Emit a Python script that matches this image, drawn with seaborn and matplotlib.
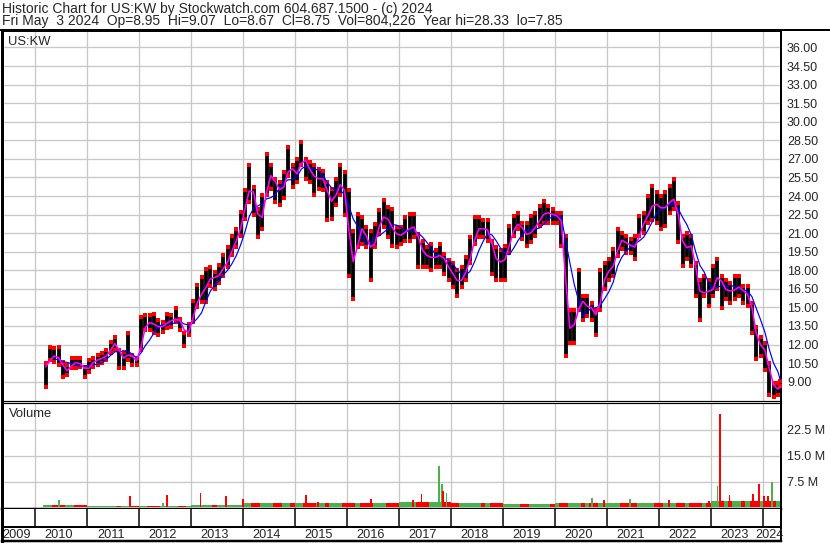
import numpy as np
import pandas as pd
import matplotlib
matplotlib.use("Agg")
import matplotlib.pyplot as plt
from matplotlib.lines import Line2D
import seaborn as sns

# %%
# monthly bars, Mar 2010 .. May 2024
start_year, start_month = 2010, 3

close = [
    10.2, 11.15, 11.0, 10.9, 9.8, 9.95, 10.6, 10.5, 10.4, 9.8,                 # 2010
    10.35, 10.75, 10.75, 11.0, 11.15, 11.95, 12.2, 10.9, 10.9, 11.4, 10.75, 10.6,  # 2011
    12.9, 13.85, 13.7, 13.6, 13.3, 13.6, 13.85, 14.0, 14.1, 13.85, 12.5, 13.45,    # 2012
    14.8, 15.9, 16.2, 17.0, 17.55, 17.3, 17.85, 18.4, 18.9, 20.15, 20.55, 22.15,   # 2013
    23.65, 25.15, 23.5, 21.6, 22.95, 25.65, 25.65, 24.7, 24.3, 25.15, 26.75, 25.65,  # 2014
    25.95, 27.3, 26.5, 25.8, 25.4, 25.4, 25.4, 23.5, 23.65, 24.45, 25.4, 23.5,     # 2015
    19.0, 18.4, 21.5, 21.2, 20.4, 19.35, 20.95, 22.05, 22.55, 21.75, 21.2, 20.7,   # 2016
    20.95, 21.2, 21.5, 21.5, 19.9, 19.35, 19.05, 19.05, 19.05, 19.35, 18.55, 18.0,  # 2017
    17.45, 16.9, 17.45, 18.25, 19.6, 21.2, 21.5, 21.2, 21.35, 19.05, 18.8, 18.55,  # 2018
    19.15, 20.75, 21.6, 21.85, 21.05, 20.75, 21.3, 21.6, 22.4, 22.65, 22.65, 22.4,  # 2019
    22.4, 21.6, 13.2, 13.45, 13.75, 15.9, 15.1, 15.1, 14.8, 14.0, 16.7, 17.8,     # 2020
    18.05, 18.6, 20.5, 20.35, 20.1, 19.95, 19.8, 21.6, 21.85, 22.9, 23.45, 23.2,   # 2021
    22.9, 23.2, 23.75, 23.75, 21.3, 19.4, 20.25, 19.7, 17.0, 15.65, 16.7, 15.9,    # 2022
    17.0, 17.8, 16.45, 16.45, 16.2, 16.6, 16.7, 16.05, 16.05, 14.0, 11.85, 12.1,   # 2023
    11.05, 9.15, 8.35, 8.45, 8.75,                                                # 2024
]
high = [
    10.5, 11.8, 11.7, 11.8, 10.6, 10.35, 10.9, 10.9, 10.9, 10.2,
    10.75, 10.9, 11.15, 11.3, 11.55, 12.2, 12.6, 11.55, 11.4, 12.9, 11.15, 10.9,
    14.25, 14.4, 14.4, 14.5, 14.0, 13.85, 14.5, 14.4, 14.95, 14.1, 12.9, 13.7,
    15.5, 16.8, 17.45, 18.1, 18.25, 17.85, 18.4, 19.2, 19.85, 20.8, 21.35, 22.7,
    24.45, 26.5, 24.7, 22.95, 24.05, 27.4, 26.5, 25.4, 25.15, 25.95, 27.95, 26.5,
    27.0, 28.35, 27.0, 26.75, 26.5, 26.2, 26.05, 25.15, 24.6, 25.4, 26.5, 25.9,
    24.5, 21.2, 22.55, 22.3, 21.5, 21.2, 21.75, 22.85, 23.65, 23.1, 22.95, 21.5,
    21.5, 22.3, 22.55, 22.55, 20.95, 20.4, 19.9, 20.15, 19.6, 20.15, 19.35, 18.8,
    18.55, 18.0, 18.25, 19.05, 20.7, 22.3, 22.3, 22.05, 22.05, 20.4, 19.9, 19.6,
    19.95, 21.6, 22.4, 22.65, 21.85, 21.85, 22.4, 22.65, 23.2, 23.6, 23.2, 22.95,
    22.65, 22.65, 20.75, 14.8, 14.8, 18.05, 15.9, 15.9, 15.35, 14.8, 18.05, 18.6,
    18.9, 19.7, 21.3, 21.05, 20.75, 20.5, 20.75, 22.4, 22.65, 24.0, 24.8, 24.3,
    24.0, 24.3, 24.8, 25.35, 23.45, 20.75, 21.05, 20.75, 18.6, 17.25, 17.55, 17.25,
    18.35, 18.95, 17.55, 17.25, 17.0, 17.55, 17.55, 16.7, 16.7, 15.35, 13.45, 12.65,
    12.1, 10.5, 8.9, 8.9, 9.07,
]
low = [
    8.6, 10.75, 10.6, 10.35, 9.4, 9.55, 10.1, 10.1, 10.2, 9.4,
    9.8, 10.2, 10.35, 10.5, 10.75, 11.3, 11.55, 10.1, 10.1, 10.75, 10.35, 10.35,
    11.55, 13.2, 13.2, 12.9, 12.75, 13.05, 13.3, 13.45, 13.85, 13.2, 11.85, 12.8,
    13.85, 15.0, 15.4, 15.4, 16.75, 16.5, 17.0, 17.55, 18.25, 19.2, 19.85, 20.8,
    22.15, 23.5, 22.45, 20.7, 21.35, 24.05, 24.6, 23.5, 23.25, 23.8, 25.65, 24.7,
    25.15, 26.5, 25.4, 25.15, 24.05, 24.6, 24.45, 22.05, 22.15, 23.25, 24.05, 22.45,
    17.5, 15.7, 19.9, 20.15, 19.9, 17.2, 19.9, 20.95, 21.5, 20.7, 20.0, 19.9,
    20.15, 20.4, 20.4, 20.7, 18.25, 18.25, 18.25, 18.0, 18.25, 18.25, 17.7, 17.2,
    16.65, 15.95, 16.65, 17.2, 18.55, 20.15, 20.7, 20.7, 20.4, 17.7, 17.2, 17.2,
    17.25, 19.4, 20.75, 21.3, 20.5, 19.95, 20.25, 20.75, 21.6, 21.85, 21.85, 21.85,
    21.85, 19.95, 11.05, 12.1, 12.1, 14.8, 14.0, 14.3, 14.0, 12.8, 14.8, 16.45,
    17.25, 17.55, 19.15, 19.7, 19.4, 19.4, 18.9, 20.75, 21.05, 21.8, 22.1, 21.85,
    21.3, 21.6, 22.65, 22.95, 20.25, 18.35, 18.9, 18.35, 15.9, 14.0, 15.9, 15.1,
    15.9, 16.45, 14.95, 15.65, 15.35, 15.65, 15.9, 15.35, 15.1, 12.95, 10.8, 11.05,
    9.95, 7.95, 7.8, 7.95, 8.67,
]

# typical daily volume per year (millions)
vol_years = list(range(2010, 2025))
vol_base = [0.6, 0.55, 0.55, 0.8, 1.3, 1.3, 1.3, 1.5, 1.3, 1.1, 1.3, 1.3, 1.3, 1.8, 2.0]

# the big volume days (date as decimal year, millions, up day?)
spike_dates = [2010.46, 2011.84, 2012.46, 2012.54, 2013.19, 2013.68, 2014.0, 2015.22,
               2015.45, 2016.46, 2017.28, 2017.44, 2017.77, 2017.83, 2017.85, 2017.92,
               2020.71, 2020.95, 2021.45, 2022.2, 2022.97, 2023.13, 2023.18, 2023.36,
               2023.82, 2023.93, 2024.02, 2024.10, 2024.18]
spike_vols = [2.3, 3.2, 1.4, 3.5, 4.3, 3.2, 2.5, 3.7,
              1.6, 2.5, 2.2, 4.0, 11.9, 6.9, 4.9, 4.3,
              2.8, 2.3, 2.5, 2.2, 2.0, 6.1, 27.0, 3.5,
              4.0, 6.9, 3.2, 3.2, 7.5]
spike_up = [1, 0, 1, 0, 0, 0, 0, 0,
            0, 0, 0, 0, 1, 1, 0, 1,
            1, 0, 1, 0, 0, 1, 0, 0,
            0, 0, 0, 0, 1]

price_ticks = np.arange(9, 36.01, 1.5)
vol_ticks = [7.5, 15.0, 22.5]
vol_labels = ["7.5 M", "15.0 M", "22.5 M"]

title1 = "Historic Chart for US:KW by Stockwatch.com 604.687.1500 - (c) 2024"
title2 = ("Fri May  3 2024  Op=8.95  Hi=9.07  Lo=8.67  Cl=8.75  "
          "Vol=804,226  Year hi=28.33  lo=7.85")

# %%
x_min, x_max = 2009.371, 2024.352
months = np.arange(len(close)) + (start_month - 1)
df = pd.DataFrame({"t": start_year + (months + 0.5) / 12,
                   "close": close, "high": high, "low": low})
df["t"] = df["t"].clip(upper=x_max - 0.015)
df["ma_fast"] = df["close"].rolling(2, min_periods=1).mean()
df["ma_slow"] = df["close"].rolling(5, min_periods=3).mean()
df["up"] = df["close"].diff().fillna(0) >= 0
df["vol"] = (start_year + months // 12)
df["vol"] = df["vol"].map(dict(zip(vol_years, vol_base)))

RED, GREEN, GRID = "#ff0000", "#4cb04c", "#c8c8c8"
PX = 0.72  # points per pixel at dpi 100

# %%
sns.set_style("white")
plt.rcParams["font.family"] = ["Liberation Sans", "DejaVu Sans"]
W, H = 830, 543
fig = plt.figure(figsize=(W / 100, H / 100), dpi=100)


def rect(x0, y0, x1, y1):
    return [x0 / W, 1 - y1 / H, (x1 - x0) / W, (y1 - y0) / H]


ax = fig.add_axes(rect(2, 31, 781, 400.7))
axv = fig.add_axes(rect(2, 402.7, 781, 508.5))
axy = fig.add_axes(rect(2, 508.5, 781, 541))
years = np.arange(2010, 2025)

for a in (ax, axv, axy):
    a.set_xlim(x_min, x_max)
    a.set_xticks(years)
    a.tick_params(axis="x", length=0, labelbottom=False)
    for s in a.spines.values():
        s.set_color("black")
    a.spines["left"].set_linewidth(3 * PX)
    a.spines["right"].set_linewidth(2 * PX)

# price panel
ax.set_axisbelow(True)
ax.grid(color=GRID, lw=1.3 * PX)
ax.vlines(df["t"], df["low"], df["high"], color="black", lw=3.8 * PX, zorder=2)
tips = pd.concat([df[["t", "high"]].rename(columns={"high": "p"}),
                  df[["t", "low"]].rename(columns={"low": "p"})])
sns.scatterplot(data=tips, x="t", y="p", ax=ax, color=RED, marker="s",
                s=8, linewidth=0, zorder=3)
sns.lineplot(data=df, x="t", y="ma_slow", ax=ax, color="#0000ff",
             lw=1.2 * PX, zorder=4)
sns.lineplot(data=df, x="t", y="ma_fast", ax=ax, color="#ff00ff",
             lw=1.6 * PX, zorder=5)
ax.set_ylim(7.465, 37.33)
ax.set_yticks(price_ticks)
ax.set_yticklabels([f"{v:.2f}" for v in price_ticks])
ax.yaxis.tick_right()
ax.tick_params(axis="y", length=0, pad=6 * PX, labelsize=9)
ax.set_xlabel("")
ax.set_ylabel("")
ax.spines["top"].set_linewidth(2 * PX)
ax.spines["bottom"].set_linewidth(1.2 * PX)
ax.text(6 / 779, 1 - 11 / 369.7, "US:KW", transform=ax.transAxes,
        va="center", ha="left", fontsize=9.4)

# volume panel
axv.set_axisbelow(True)
axv.grid(color=GRID, lw=1.3 * PX)
axv.bar(df["t"], df["vol"], width=1 / 12,
        color=np.where(df["up"], GREEN, RED), linewidth=0, zorder=2)
axv.bar(spike_dates, spike_vols, width=0.035,
        color=[GREEN if u else RED for u in spike_up], linewidth=0, zorder=3)
axv.set_ylim(-0.3, 30.3)
axv.set_yticks(vol_ticks)
axv.set_yticklabels(vol_labels)
axv.yaxis.tick_right()
axv.tick_params(axis="y", length=0, pad=6 * PX, labelsize=9)
axv.spines["top"].set_linewidth(1.2 * PX)
axv.spines["bottom"].set_linewidth(2.5 * PX)
axv.text(7 / 779, 1 - 11 / 105.8, "Volume", transform=axv.transAxes,
         va="center", ha="left", fontsize=9.4)

# year strip
axy.set_ylim(0, 1)
axy.set_yticks([])
axy.spines["top"].set_visible(False)
axy.spines["bottom"].set_linewidth(2.5 * PX)
axy.vlines(years, 0.446, 1, color="black", lw=1.5 * PX)
axy.axhline(0.446, color="black", lw=2 * PX)
for yr in range(2009, 2025):
    lo, hi = max(yr, x_min), min(yr + 1, x_max)
    axy.text((lo + hi) / 2 - 0.035, 0.19, str(yr), ha="center", va="center",
             fontsize=9.2)

# header
fig.text(2 / W, 1 - 9 / H, title1, va="center", ha="left", fontsize=10)
fig.text(2 / W, 1 - 21.5 / H, title2, va="center", ha="left", fontsize=10)
fig.add_artist(Line2D([0, 1], [1 - 30 / H] * 2, color="black", lw=2 * PX,
                      transform=fig.transFigure))

fig.savefig("out.png", dpi=100)
